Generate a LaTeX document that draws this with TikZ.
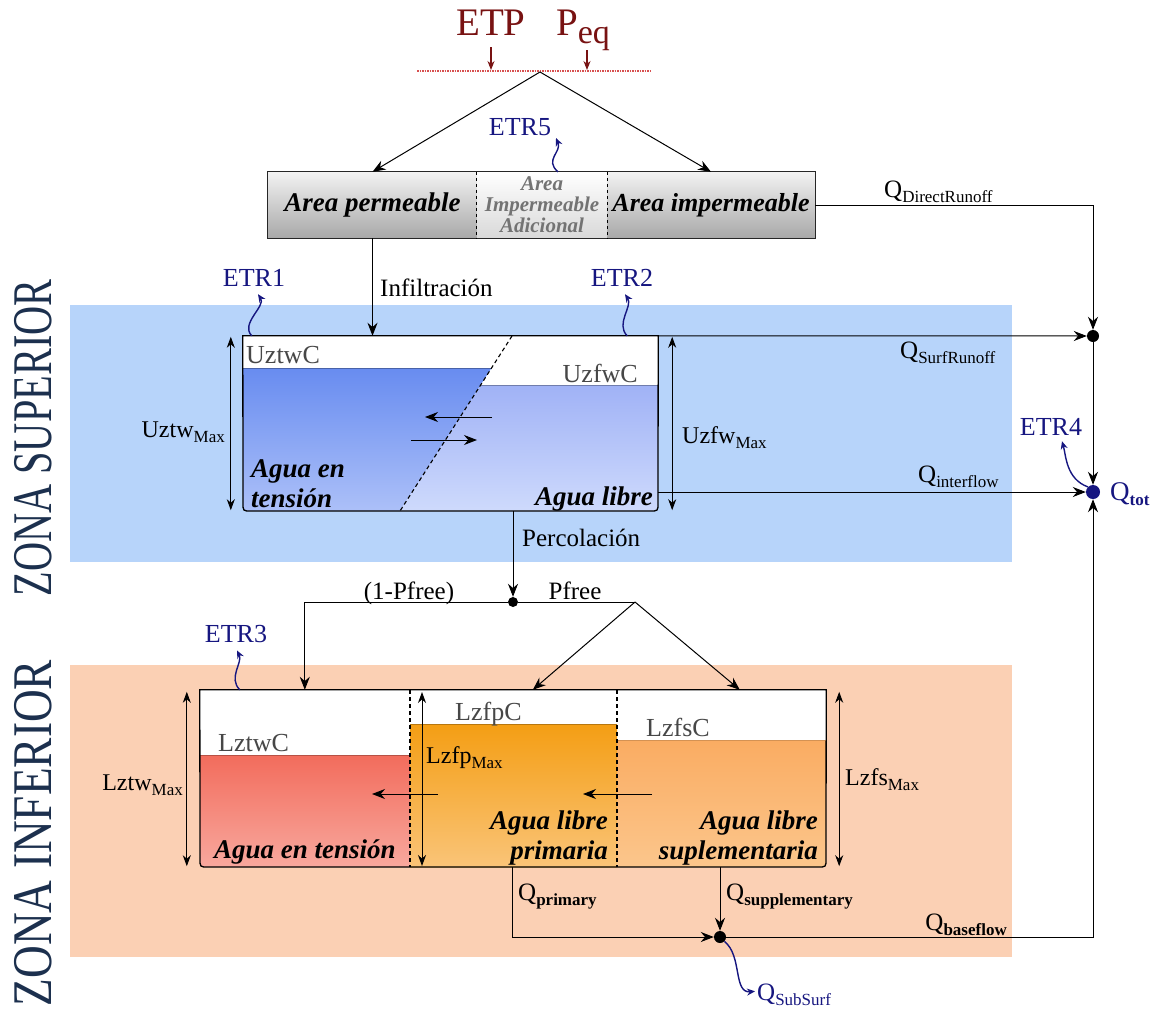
\documentclass[tikz,border=0pt]{standalone}
\usepackage{fontspec}
\usepackage{graphicx}
\setmainfont{Liberation Serif}
\usetikzlibrary{arrows.meta,calc}
\newcommand\fsz[1]{\fontsize{#1}{#1}\selectfont}
\newcommand\sbs[2]{#1\raisebox{-5pt}{\fsz{17}#2}}
\newcommand\sbsb[2]{#1\raisebox{-5pt}{\fsz{17}\bfseries #2}}
\definecolor{dred}{RGB}{120,18,18}
\definecolor{lred}{RGB}{215,80,80}
\definecolor{navy}{RGB}{22,22,128}
\definecolor{zblue}{RGB}{183,212,250}
\definecolor{zorange}{RGB}{251,208,180}
\definecolor{zonatxt}{RGB}{28,48,78}
\definecolor{ublt}{RGB}{104,140,240}
\definecolor{ublb}{RGB}{172,192,248}
\definecolor{ubrt}{RGB}{160,178,246}
\definecolor{ubrb}{RGB}{206,218,252}
\definecolor{llt}{RGB}{242,108,92}
\definecolor{llb}{RGB}{248,168,158}
\definecolor{lmt}{RGB}{244,158,20}
\definecolor{lmb}{RGB}{250,196,120}
\definecolor{lrt}{RGB}{250,172,98}
\definecolor{lrb}{RGB}{251,198,140}
\begin{document}
\begin{tikzpicture}[x=1pt,y=-1pt,
  arr/.style={-{Stealth[length=13pt,width=10pt]}, line width=1pt},
  rarr/.style={-{Stealth[length=9pt,width=7pt]}, line width=1.1pt, draw=dred},
  dbl/.style={{Stealth[length=11pt,width=8pt]}-{Stealth[length=11pt,width=8pt]}, line width=0.9pt},
  wav/.style={draw=navy, line width=1.4pt, -{Stealth[length=8pt,width=7pt]}},
  dotnode/.style={circle, fill=black, inner sep=0pt, minimum size=#1},
  lab/.style={font=\fsz{25}, inner sep=0pt},
  etr/.style={font=\fsz{26}, text=navy, inner sep=0pt},
  lvl/.style={font=\fsz{26}, text=black!72, inner sep=0pt},
  bi/.style={font=\fontsize{27}{30}\selectfont\bfseries\itshape, inner sep=0pt},
  mx/.style={font=\fsz{24}, inner sep=0pt},
  areasec/.style={inner sep=0pt, minimum height=66pt},
]
\useasboundingbox (0,0) rectangle (1159,1010);
\fill[white] (0,0) rectangle (1159,1010);
% zone backgrounds
\fill[zblue] (70,305) rectangle (1012,562);
\fill[zorange] (70,665) rectangle (1012,957);
\node[text=zonatxt, rotate=90, inner sep=0pt] (zsup) at (33,438) {\scalebox{0.72}[1]{\fsz{56}ZONA SUPERIOR}};
\node[text=zonatxt, rotate=90, inner sep=0pt] (zinf) at (33,833) {\scalebox{0.81}[1]{\fsz{56}ZONA INFERIOR}};

% top inputs
\node[text=dred, font=\fsz{39}, inner sep=0pt, anchor=base] (etp) at (491,35) {ETP};
\node[text=dred, font=\fsz{39}, inner sep=0pt, anchor=base west] (peq) at (556,35) {P\raisebox{-8pt}{\fsz{34}eq}};
\coordinate (etpin) at (491,70);
\coordinate (peqin) at (587,70);
\coordinate (dl) at (417,71);
\coordinate (dr) at (652,71);
\coordinate (apex) at (540,72);
\draw[rarr, shorten <=12pt] (etp) -- (etpin);
\draw[rarr] (peq.south -| peqin) -- (peqin);
\draw[draw=lred, line width=1.6pt, dash pattern=on 1.5pt off 1pt] (dl) -- (dr);

% area box
\node[areasec, minimum width=209pt, top color=gray!10, bottom color=gray!68, font=\fsz{27}\bfseries\itshape] (perm) at (372.5,205) {Area permeable};
\node[areasec, minimum width=130pt, top color=white, bottom color=gray!30, align=center, text=black!55, font=\fontsize{21}{21}\selectfont\bfseries\itshape] (adic) at (542,205) {Area\\Impermeable\\Adicional};
\node[areasec, minimum width=208pt, top color=gray!10, bottom color=gray!68, font=\fsz{26}\bfseries\itshape] (imperm) at (711,205) {Area impermeable};
\draw[line width=1.3pt, black!85] (perm.north west) rectangle (imperm.south east);
\draw[dashed, line width=0.9pt] (adic.north west) -- (adic.south west);
\draw[dashed, line width=0.9pt] (adic.north east) -- (adic.south east);
\draw[arr] (apex) -- (perm.north);
\draw[arr] (apex) -- (imperm.north);

\node[etr, anchor=base] (etr5) at (520,135) {ETR5};
\coordinate (e5tip) at (556,138);
\draw[wav] ($(adic.north)+(16,0)$) .. controls +(-14,-12) and +(6,14) .. (e5tip);

\node[lab, anchor=base west] (qdr) at (884,197) {\sbs{Q}{DirectRunoff}};
\node[dotnode=12pt] (j1) at (1093,336) {};
\draw[arr] (imperm.east) -| (j1);

% upper box
\node[inner sep=0pt, minimum width=415pt, minimum height=175pt] (ubox) at (450.5,423.5) {};
\fill[white] (ubox.north west) -- (243,503) .. controls (243,511) .. (251,511) -- (650,511) .. controls (658,511) .. (658,503) -- (ubox.north east) -- cycle;
\shade[top color=ublt, bottom color=ublb] (243,368) -- (491.5,368) -- (400,511) -- (251,511) .. controls (243,511) .. (243,503) -- cycle;
\shade[top color=ubrt, bottom color=ubrb] (480.6,385) -- (658,385) -- (658,503) .. controls (658,511) .. (650,511) -- (400,511) -- cycle;
\draw[ublt!70!black, line width=0.7pt] (243,368) -- (491.5,368);
\draw[ubrt!70!black, line width=0.7pt] (480.6,385) -- (658,385);
\draw[line width=1.1pt, dash pattern=on 4pt off 3pt] (512,336) -- (400,511);
\draw[line width=1.3pt] (ubox.north west) -- (243,503) .. controls (243,511) .. (251,511) -- (650,511) .. controls (658,511) .. (658,503) -- (ubox.north east) -- cycle;
\draw[arr] (492,417) -- (425,417);
\draw[arr] (411,440) -- (477,440);
\node[lvl, anchor=base west] (uztwc) at (246,363) {UztwC};
\node[lvl, anchor=base east] (uzfwc) at (638,382) {UzfwC};
\node[bi, align=left, anchor=south west] (aet1) at (251,508) {Agua en\\tensión};
\node[bi, anchor=base east] (al1) at (653,505) {Agua libre};
\draw[dbl] ($(ubox.north west)+(-12,1)$) -- ($(ubox.south west)+(-12,-1)$);
\draw[dbl] ($(ubox.north east)+(14,1)$) -- ($(ubox.south east)+(14,-1)$);
\node[mx, anchor=base east] (uztwm) at (225,437) {\sbs{Uztw}{Max}};
\node[mx, anchor=base west] (uzfwm) at (682,443) {\sbs{Uzfw}{Max}};

\draw[arr] (perm.south) -- (perm.south |- ubox.north);
\node[lab, anchor=base west] (infl) at (380,296) {Infiltración};

\node[etr, anchor=base] (etr1) at (254,286) {ETR1};
\node[etr, anchor=base] (etr2) at (622,286) {ETR2};
\draw[wav] ($(ubox.north west)+(9,0)$) .. controls +(-12,-12) and +(8,12) .. ($(etr1.south)+(4,8)$);
\draw[wav] ($(ubox.north east)+(-31,0)$) .. controls +(-12,-12) and +(8,12) .. ($(etr2.south)+(3,8)$);

% outflows of upper box
\node[circle, fill=navy, inner sep=0pt, minimum size=14pt] (qtot) at (1093,492) {};
\draw[arr] (ubox.north east) -- (j1);
\draw[arr] (ubox.east |- qtot) -- (qtot);
\draw[arr] (j1) -- (qtot);
\node[lab, anchor=base west] (qsr) at (900,358) {\sbs{Q}{SurfRunoff}};
\node[lab, anchor=base west] (qif) at (918,482) {\sbs{Q}{interflow}};
\node[lab, text=navy, font=\fsz{27}, anchor=base west] (qtotl) at (1110,500) {\sbsb{Q}{tot}};
\node[etr, anchor=base] (etr4) at (1051,435) {ETR4};
\draw[wav] (qtot.north west) .. controls +(-22,-8) and +(4,14) .. ($(etr4.south)+(11,6)$);

% percolation
\node[dotnode=10pt] (p1) at (513,602) {};
\draw[arr] (ubox.south -| p1) -- (p1);
\node[lab, anchor=base west] (perc) at (522,546) {Percolación};
\node[inner sep=0pt, minimum width=626pt, minimum height=177pt] (lbox) at (513,778.5) {};
\coordinate (pf) at (635,602);
\draw[arr] (p1) -| ($(lbox.north west)+(105,0)$);
\draw[line width=1pt] (p1) -- (pf);
\draw[arr] (pf) -- ($(lbox.north west)+(333,0)$);
\draw[arr] (pf) -- ($(lbox.north west)+(540,0)$);
\node[lab, anchor=base] (npf) at (409,599) {(1-Pfree)};
\node[lab, anchor=base] (pfr) at (575,599) {Pfree};

% lower box
\fill[white] (lbox.north west) -- (200,859) .. controls (200,867) .. (208,867) -- (818,867) .. controls (826,867) .. (826,859) -- (lbox.north east) -- cycle;
\shade[top color=llt, bottom color=llb] (200,755) -- (410,755) -- (410,867) -- (208,867) .. controls (200,867) .. (200,859) -- cycle;
\shade[top color=lmt, bottom color=lmb] (410,724) rectangle (617,867);
\shade[top color=lrt, bottom color=lrb] (617,740) -- (826,740) -- (826,859) .. controls (826,867) .. (818,867) -- (617,867) -- cycle;
\draw[llt!75!black, line width=0.7pt] (200,755) -- (410,755);
\draw[lmt!75!black, line width=0.7pt] (410,724) -- (617,724);
\draw[lrt!85!black, line width=0.5pt] (617,740) -- (826,740);
\draw[line width=1.1pt, dash pattern=on 4pt off 3pt] (410,690) -- (410,867);
\draw[line width=1.1pt, dash pattern=on 4pt off 3pt] (617,690) -- (617,867);
\draw[line width=1.3pt] (lbox.north west) -- (200,859) .. controls (200,867) .. (208,867) -- (818,867) .. controls (826,867) .. (826,859) -- (lbox.north east) -- cycle;
\draw[arr] (438,794) -- (372,794);
\draw[arr] (652,794) -- (583,794);
\node[lvl, anchor=base west] (lztwc) at (218,751) {LztwC};
\node[lvl, anchor=base west] (lzfpc) at (455,720) {LzfpC};
\node[lvl, anchor=base west] (lzfsc) at (646,736) {LzfsC};
\node[bi, anchor=base west] (aet2) at (214,858) {Agua en tensión};
\node[bi, align=right, anchor=south east] (alp) at (608,865) {Agua libre\\primaria};
\node[bi, align=right, anchor=south east] (als) at (818,865) {Agua libre\\suplementaria};
\draw[dbl] ($(lbox.north west)+(-13,2)$) -- ($(lbox.south west)+(-13,-1)$);
\draw[dbl] (422,692) -- (422,866);
\draw[dbl] ($(lbox.north east)+(13,2)$) -- ($(lbox.south east)+(13,-1)$);
\node[mx, anchor=base east] (lztwm) at (183,790) {\sbs{Lztw}{Max}};
\node[mx, anchor=base west] (lzfpm) at (426,763) {\sbs{Lzfp}{Max}};
\node[mx, anchor=base west] (lzfsm) at (845,785) {\sbs{Lzfs}{Max}};

\node[etr, anchor=base] (etr3) at (236,642) {ETR3};
\draw[wav] ($(lbox.north west)+(40,0)$) .. controls +(-12,-12) and +(6,12) .. ($(etr3.south)+(1,8)$);

% bottom outflows
\node[dotnode=12pt] (j2) at (720,937) {};
\draw[arr] ($(lbox.south west)+(313,0)$) |- (j2);
\draw[arr] (lbox.south -| j2) -- (j2);
\draw[arr] (j2) -| (qtot);
\node[lab, anchor=base west] (qpr) at (518,900) {\sbsb{Q}{primary}};
\node[lab, anchor=base west] (qsp) at (726,900) {\sbsb{Q}{supplementary}};
\node[lab, anchor=base east] (qbf) at (1007,930) {\sbsb{Q}{baseflow}};
\node[lab, text=navy, anchor=base west] (qsub) at (757,1000) {\sbs{Q}{SubSurf}};
\draw[wav] (j2.south east) .. controls +(18,14) and +(-22,2) .. ($(qsub.west)+(-2,-3)$);
\end{tikzpicture}
\end{document}
